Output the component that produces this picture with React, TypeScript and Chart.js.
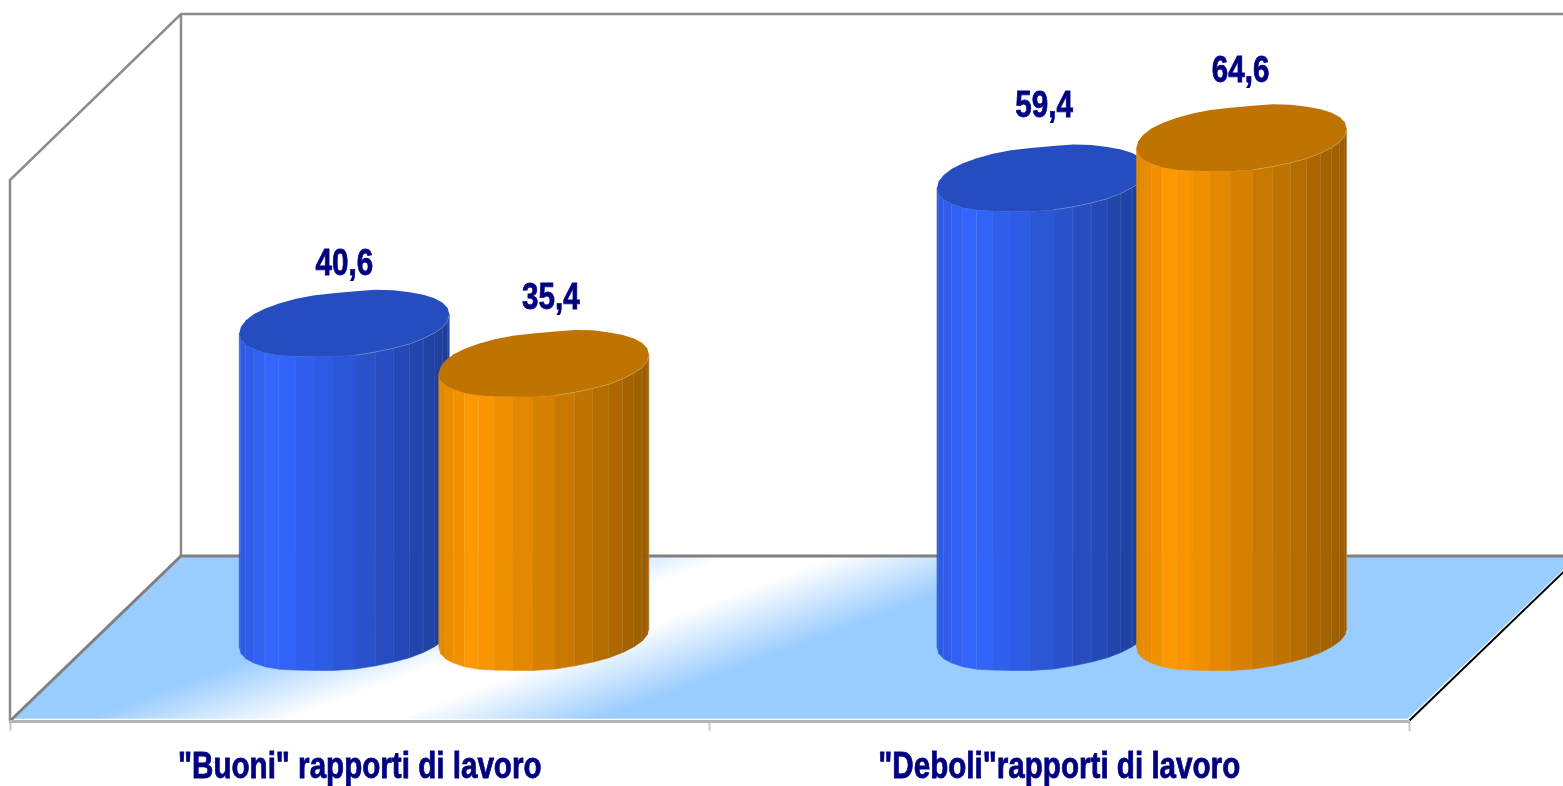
import React, { useEffect, useRef } from "react";
import { Chart, registerables } from "chart.js";

Chart.register(...registerables);

const categories = ['"Buoni" rapporti di lavoro', '"Deboli"rapporti di lavoro'];
const blueValues = [40.6, 59.4];
const orangeValues = [35.4, 64.6];
const valueLabels = [["40,6", "59,4"], ["35,4", "64,6"]];
const yMax = 70;

const FONT = '"Liberation Sans", Arial, sans-serif';
const NAVY = "#000080";
const DEPTH_X = 171;
const DEPTH_Y = 165;
const SIDES = 34;
const SQUEEZE = 0.8;
const LABEL_GAPS = [[59, 72], [65, 66]];
const LABEL_NUDGE = [[0, 2], [7, -1]];

type RGB = [number, number, number];
const BASE: RGB[] = [[51, 102, 255], [255, 153, 0]];

const shade = (c: RGB, f: number, alpha = 1) =>
  `rgba(${Math.round(c[0] * f)},${Math.round(c[1] * f)},${Math.round(c[2] * f)},${alpha})`;

const ringPoint = (cx: number, cy: number, a: number, b: number, t: number): [number, number] => {
  const c = Math.cos(t);
  const s = Math.sin(t);
  const fat = 0.94;
  const wobble = 1 + 0.012 * Math.sin(5 * t + 1) + 0.01 * Math.sin(9 * t);
  return [
    cx + a * Math.sign(c) * Math.pow(Math.abs(c), fat),
    cy + b * wobble * Math.sign(s) * Math.pow(Math.abs(s), fat) - a * 0.09 * c,
  ];
};

const shiftX = (chart: any, x: number) => DEPTH_X / 2 - 0.3 - (x - chart.chartArea.left) * 0.0025;

const drawText = (ctx: any, text: string, x: number, y: number) => {
  ctx.save();
  ctx.translate(x, y);
  ctx.scale(SQUEEZE, 1);
  ctx.font = `bold 37px ${FONT}`;
  ctx.fillStyle = NAVY;
  ctx.strokeStyle = NAVY;
  ctx.lineWidth = 0.8;
  ctx.textAlign = "center";
  ctx.textBaseline = "middle";
  ctx.fillText(text, 0, 0);
  ctx.strokeText(text, 0, 0);
  ctx.restore();
};

const drawCylinders = (chart: any, index: number) => {
  const { ctx } = chart;
  const meta = chart.getDatasetMeta(index);
  const base = BASE[index];
  const dy = -DEPTH_Y / 2 - 1;
  ctx.save();
  meta.data.forEach((el: any) => {
    const cx = el.x + shiftX(chart, el.x);
    const a = el.width / 2;
    const b = 32;
    const topY = el.y + dy;
    const botY = el.base + dy;
    const half = SIDES / 2;
    for (let i = 0; i < half; i++) {
      const t0 = Math.PI - (i / half) * Math.PI;
      const t1 = Math.PI - ((i + 1) / half) * Math.PI;
      const pt0 = ringPoint(cx, topY, a, b, t0);
      const pt1 = ringPoint(cx, topY, a, b, t1);
      const pb0 = ringPoint(cx, botY, a, b, t0);
      const pb1 = ringPoint(cx, botY, a, b, t1);
      const u = ((pt0[0] + pt1[0]) / 2 - (cx - a)) / (2 * a);
      const f = u < 0.17 ? 0.88 + (u / 0.17) * 0.12 : 1 - ((u - 0.17) / 0.83) * 0.4;
      ctx.fillStyle = shade(base, f);
      ctx.strokeStyle = shade(base, f);
      ctx.lineWidth = 0.6;
      ctx.beginPath();
      ctx.moveTo(pt0[0], pt0[1]);
      ctx.lineTo(pt1[0], pt1[1]);
      ctx.lineTo(pb1[0], pb1[1]);
      ctx.lineTo(pb0[0], pb0[1]);
      ctx.closePath();
      ctx.fill();
      ctx.stroke();
      if (u < 0.2 || u > 0.6) {
        ctx.strokeStyle = "rgba(255,255,255,0.25)";
        ctx.lineWidth = 1;
        ctx.beginPath();
        ctx.moveTo(pt1[0], pt1[1]);
        ctx.lineTo(pb1[0], pb1[1]);
        ctx.stroke();
      }
    }
    ctx.fillStyle = shade(base, 0.75);
    ctx.beginPath();
    for (let i = 0; i < SIDES; i++) {
      const p = ringPoint(cx, topY, a, b, (i / SIDES) * Math.PI * 2);
      if (i === 0) ctx.moveTo(p[0], p[1]);
      else ctx.lineTo(p[0], p[1]);
    }
    ctx.closePath();
    ctx.fill();
    ctx.strokeStyle = "rgba(255,255,255,0.22)";
    ctx.lineWidth = 1;
    ctx.beginPath();
    for (let i = 0; i <= half / 2; i++) {
      const p = ringPoint(cx, topY, a, b, (i / half) * Math.PI);
      if (i === 0) ctx.moveTo(p[0], p[1]);
      else ctx.lineTo(p[0], p[1]);
    }
    ctx.stroke();
  });
  ctx.restore();
};

const cylinderPlugin = {
  id: "cylinder3d",
  beforeDraw(chart: any) {
    const { ctx, chartArea: ca, width } = chart;
    const bx = ca.left + DEPTH_X;
    const by = ca.bottom - DEPTH_Y;
    const topBack = ca.top - DEPTH_Y - 1;
    ctx.save();
    const g = ctx.createLinearGradient(309, 636, 371, 804);
    g.addColorStop(0, "#99ccff");
    g.addColorStop(0.4, "#ffffff");
    g.addColorStop(0.6, "#ffffff");
    g.addColorStop(1, "#99ccff");
    ctx.fillStyle = g;
    ctx.beginPath();
    ctx.moveTo(ca.left, ca.bottom);
    ctx.lineTo(bx, by);
    ctx.lineTo(ca.right + DEPTH_X, by);
    ctx.lineTo(ca.right, ca.bottom);
    ctx.closePath();
    ctx.fill();
    ctx.strokeStyle = "#8c8c8c";
    ctx.lineWidth = 2.5;
    ctx.beginPath();
    ctx.moveTo(ca.left, ca.bottom);
    ctx.lineTo(ca.left, ca.top);
    ctx.lineTo(bx, topBack);
    ctx.lineTo(width + 4, topBack);
    ctx.moveTo(bx, topBack);
    ctx.lineTo(bx, by);
    ctx.stroke();
    ctx.strokeStyle = "#808080";
    ctx.lineWidth = 3;
    ctx.beginPath();
    ctx.moveTo(ca.left, ca.bottom);
    ctx.lineTo(bx, by);
    ctx.lineTo(width + 4, by);
    ctx.stroke();
    ctx.strokeStyle = "#ffffff";
    ctx.lineWidth = 1.5;
    ctx.beginPath();
    ctx.moveTo(ca.left + 4, ca.bottom - 1.5);
    ctx.lineTo(ca.right - 1, ca.bottom - 1.5);
    ctx.lineTo(ca.right + DEPTH_X - 1.5, by);
    ctx.stroke();
    ctx.strokeStyle = "#000000";
    ctx.lineWidth = 2;
    ctx.beginPath();
    ctx.moveTo(ca.right, ca.bottom);
    ctx.lineTo(ca.right + DEPTH_X, by);
    ctx.stroke();
    ctx.restore();
  },
  beforeDatasetDraw() {
    return false;
  },
  afterDatasetsDraw(chart: any) {
    drawCylinders(chart, 0);
    drawCylinders(chart, 1);
    const dy = -DEPTH_Y / 2 - 1;
    chart.data.datasets.forEach((_: any, d: number) => {
      chart.getDatasetMeta(d).data.forEach((el: any, i: number) => {
        drawText(
          chart.ctx,
          valueLabels[d][i],
          el.x + shiftX(chart, el.x) + LABEL_NUDGE[d][i],
          el.y + dy - LABEL_GAPS[d][i],
        );
      });
    });
    const xs = chart.scales.x;
    categories.forEach((_, i) => {
      drawText(chart.ctx, xs.getLabelForValue(i), xs.getPixelForTick(i), chart.chartArea.bottom + 47);
    });
  },
};

export default function App() {
  const ref = useRef<HTMLCanvasElement>(null);
  useEffect(() => {
    if (!ref.current) return;
    const chart = new Chart(ref.current, {
      type: "bar",
      data: {
        labels: categories,
        datasets: [
          { label: "Blu", data: blueValues, backgroundColor: "#3366ff", categoryPercentage: 0.572, barPercentage: 1.05 },
          { label: "Arancio", data: orangeValues, backgroundColor: "#ff9900", categoryPercentage: 0.572, barPercentage: 1.05 },
        ],
      },
      options: {
        responsive: false,
        animation: false,
        layout: { padding: { left: 10, right: 154, top: 180, bottom: 0 } },
        plugins: { legend: { display: false }, tooltip: { enabled: false } },
        scales: {
          y: { display: false, min: 0, max: yMax },
          x: {
            afterFit: (s: any) => { s.height = 65; },
            border: { color: "#b4b4b4", width: 3 },
            grid: { drawOnChartArea: false, tickColor: "#c8c8c8", tickLength: 10, tickWidth: 2 },
            ticks: { display: false },
          },
        },
      },
      plugins: [cylinderPlugin],
    } as any);
    return () => chart.destroy();
  }, []);
  return (
    <canvas
      ref={ref}
      width={1563}
      height={786}
      style={{ position: "absolute", left: 0, top: 0, display: "block" }}
    />
  );
}
